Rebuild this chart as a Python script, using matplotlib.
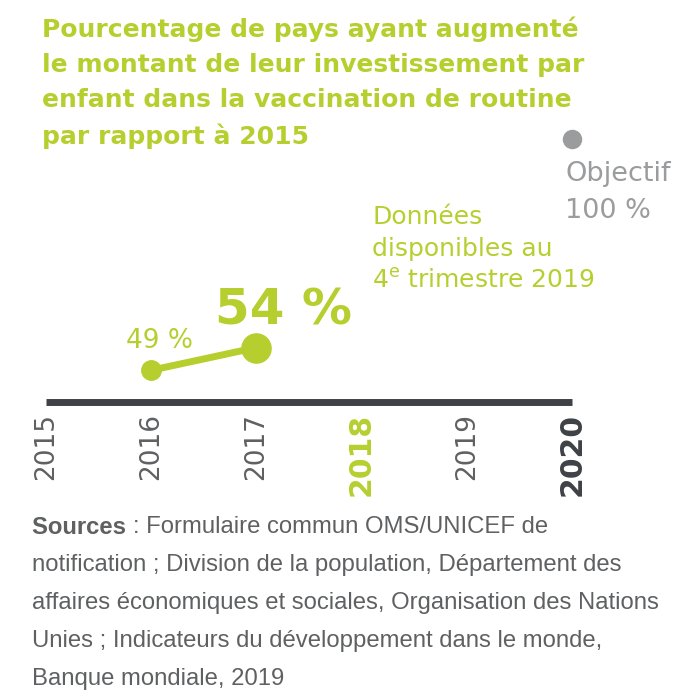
import matplotlib.pyplot as plt

years = [2015, 2016, 2017, 2018, 2019, 2020]
year_labels = ["2015", "2016", "2017", "2018", "2019", "2020"]
obs_years = [2016, 2017]
obs_values = [49, 54]
obs_labels = ["49 %", "54 %"]
target_year = 2020
target_value = 100

title = ("Pourcentage de pays ayant augmenté\nle montant de leur investissement par\n"
         "enfant dans la vaccination de routine\npar rapport à 2015")
note_lines = ["Données", "disponibles au", "4$^{\\mathregular{e}}$ trimestre 2019"]
source_first = ": Formulaire commun OMS/UNICEF de"
source_lines = [
    "notification ; Division de la population, Département des",
    "affaires économiques et sociales, Organisation des Nations",
    "Unies ; Indicateurs du développement dans le monde,",
    "Banque mondiale, 2019",
]

GREEN = "#b6cf2f"
GREY = "#9b9c9e"
DARK = "#3e4146"
TICK = "#5f6062"

plt.rcParams["font.family"] = "DejaVu Sans"

fig = plt.figure(figsize=(7, 7), dpi=100)
ax = fig.add_axes([46 / 700, 1 - 402 / 700, 526 / 700, 263 / 700])
ax.set_xlim(2015, 2020)
ax.set_ylim(42, 100)
for s in ["top", "left", "right"]:
    ax.spines[s].set_visible(False)
ax.spines["bottom"].set_linewidth(5)
ax.spines["bottom"].set_color(DARK)
ax.spines["bottom"].set_capstyle("butt")
ax.set_yticks([])
ax.set_xticks(years)
ax.set_xticklabels(year_labels, rotation=90, va="top", ha="center")
ax.tick_params(axis="x", length=0, pad=8, labelsize=19, labelcolor=TICK)
for lab in ax.get_xticklabels():
    if lab.get_text() == "2018":
        lab.set_color(GREEN)
        lab.set_fontweight("bold")
        lab.set_fontsize(21.5)
    elif lab.get_text() == "2020":
        lab.set_color(DARK)
        lab.set_fontweight("bold")
        lab.set_fontsize(21.5)

ax.plot(obs_years, obs_values, color=GREEN, lw=5, clip_on=False, zorder=3)
ax.plot(obs_years[:1], obs_values[:1], "o", color=GREEN, ms=14, clip_on=False, zorder=4)
ax.plot(obs_years[1:], obs_values[1:], "o", color=GREEN, ms=21, clip_on=False, zorder=4)
ax.plot([target_year], [target_value], "o", color=GREY, ms=13, clip_on=False)

ax.annotate(obs_labels[0], (obs_years[0], obs_values[0]), xytext=(-18, 21),
            textcoords="offset points", color=GREEN, fontsize=19, ha="left", va="center")
ax.annotate(obs_labels[1], (obs_years[1], obs_values[1]), xytext=(-30, 27),
            textcoords="offset points", color=GREEN, fontsize=36, fontweight="bold",
            ha="left", va="center")
ax.annotate("Objectif\n100 %", (target_year, target_value), xytext=(-5, -16),
            textcoords="offset points", color=GREY, fontsize=19.5, ha="left", va="top",
            linespacing=1.55)

for i, line in enumerate(note_lines):
    fig.text(372 / 700, 1 - (217 + 32 * i) / 700, line, color=GREEN, fontsize=18,
             ha="left", va="center")

fig.text(42 / 700, 1 - 17 / 700, title, color=GREEN, fontsize=18, fontweight="bold",
         ha="left", va="top", linespacing=1.56)

src_font = dict(color=TICK, fontsize=17.2, family="Liberation Sans", va="center", ha="left")
head = fig.text(32 / 700, 1 - 527 / 700, "Sources ", fontweight="bold", **src_font)
fig.canvas.draw()
bb = head.get_window_extent(fig.canvas.get_renderer())
fig.text(bb.x1 / fig.bbox.width, 1 - 527 / 700, source_first, **src_font)
for i, line in enumerate(source_lines):
    fig.text(32 / 700, 1 - (565 + 38 * i) / 700, line, **src_font)

fig.savefig("out.png", dpi=100)
